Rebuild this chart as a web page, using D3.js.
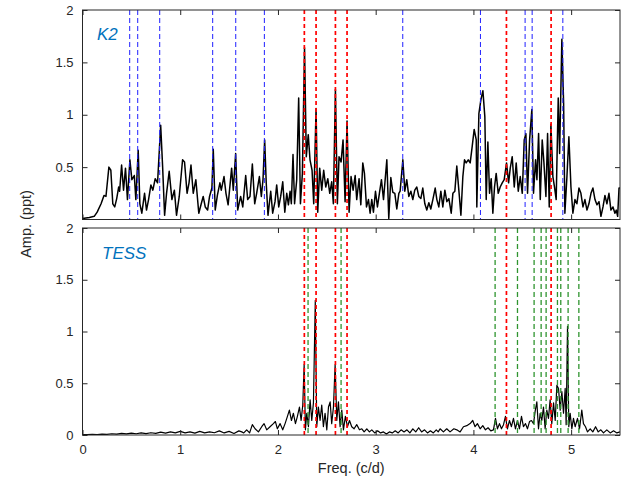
<!DOCTYPE html>
<html>
<head>
<meta charset="utf-8">
<script src="https://cdn.jsdelivr.net/npm/d3@7"></script>
<style>
  body { margin: 0; background: #fff; }
  svg { display: block; font-family: "Liberation Sans", Arial, sans-serif; }
  .tick text { fill: #262626; font-size: 13px; }
  .tick line { stroke: #262626; }
</style>
</head>
<body>
<div id="container"></div>
<script>
// K2 amplitude spectrum [freq (c/d), amp (ppt)]
const k2Spectrum = [[0,0.01],[0.07,0.02],[0.12,0.03],[0.15,0.07],[0.19,0.15],[0.22,0.23],[0.24,0.22],[0.27,0.50],[0.29,0.47],[0.31,0.15],[0.33,0.12],[0.35,0.20],[0.37,0.31],[0.38,0.27],[0.40,0.52],[0.42,0.28],[0.44,0.49],[0.46,0.19],[0.485,0.57],[0.505,0.38],[0.53,0.42],[0.546,0.19],[0.57,0.66],[0.587,0.15],[0.607,0.06],[0.635,0.25],[0.655,0.09],[0.676,0.19],[0.70,0.33],[0.72,0.28],[0.744,0.39],[0.768,0.35],[0.80,0.90],[0.82,0.50],[0.84,0.04],[0.86,0.25],[0.887,0.46],[0.915,0.19],[0.94,0.28],[0.962,0.04],[0.99,0.22],[1.024,0.57],[1.044,0.55],[1.07,0.25],[1.09,0.35],[1.11,0.52],[1.133,0.25],[1.16,0.38],[1.19,0.06],[1.215,0.15],[1.235,0.22],[1.256,0.12],[1.28,0.09],[1.30,0.22],[1.324,0.30],[1.338,0.67],[1.358,0.09],[1.38,0.23],[1.406,0.35],[1.42,0.28],[1.448,0.41],[1.468,0.25],[1.49,0.14],[1.526,0.49],[1.543,0.28],[1.567,0.63],[1.588,0.09],[1.618,0.22],[1.64,0.12],[1.67,0.42],[1.69,0.19],[1.714,0.22],[1.738,0.53],[1.762,0.15],[1.782,0.25],[1.81,0.41],[1.83,0.22],[1.847,0.38],[1.864,0.76],[1.88,0.35],[1.898,0.04],[1.926,0.27],[1.946,0.06],[1.97,0.17],[1.987,0.33],[2.008,0.12],[2.028,0.22],[2.049,0.36],[2.07,0.07],[2.09,0.25],[2.107,0.14],[2.124,0.27],[2.137,0.15],[2.154,0.62],[2.17,0.15],[2.192,0.38],[2.212,1.16],[2.23,0.15],[2.25,0.44],[2.272,1.64],[2.29,0.60],[2.31,0.81],[2.328,0.57],[2.349,0.47],[2.366,0.15],[2.39,1.06],[2.407,0.07],[2.427,0.49],[2.448,0.28],[2.468,0.47],[2.489,0.31],[2.51,0.39],[2.53,0.25],[2.55,0.36],[2.567,0.15],[2.588,1.24],[2.608,0.15],[2.625,0.60],[2.646,0.55],[2.666,0.76],[2.687,0.17],[2.707,0.94],[2.728,0.07],[2.748,0.41],[2.769,0.28],[2.79,0.42],[2.806,0.19],[2.83,0.39],[2.848,0.14],[2.868,0.54],[2.885,0.44],[2.906,0.12],[2.926,0.19],[2.943,0.06],[2.96,0.19],[2.977,0.07],[2.998,0.27],[3.018,0.12],[3.038,0.25],[3.059,0.38],[3.08,0.19],[3.114,0.57],[3.134,0.01],[3.155,0.40],[3.175,0.26],[3.196,0.25],[3.216,0.10],[3.237,0.25],[3.25,0.27],[3.278,0.57],[3.298,0.27],[3.318,0.38],[3.339,0.22],[3.36,0.27],[3.38,0.19],[3.40,0.28],[3.421,0.31],[3.441,0.22],[3.462,0.20],[3.482,0.30],[3.503,0.15],[3.523,0.09],[3.544,0.16],[3.564,0.10],[3.585,0.19],[3.609,0.30],[3.626,0.19],[3.646,0.12],[3.667,0.27],[3.687,0.12],[3.708,0.28],[3.728,0.17],[3.749,0.20],[3.773,0.06],[3.79,0.25],[3.81,0.27],[3.83,0.51],[3.851,0.28],[3.872,0.04],[3.892,0.41],[3.909,0.57],[3.926,0.54],[3.947,0.57],[3.967,0.54],[3.988,0.70],[4.008,0.86],[4.029,0.76],[4.035,0.12],[4.056,1.01],[4.076,1.14],[4.097,1.23],[4.117,0.98],[4.131,0.19],[4.148,0.74],[4.165,0.25],[4.182,0.39],[4.199,0.06],[4.216,0.31],[4.233,0.44],[4.254,0.25],[4.274,0.31],[4.295,0.35],[4.315,0.38],[4.339,0.54],[4.36,0.35],[4.377,0.49],[4.397,0.60],[4.418,0.31],[4.438,0.54],[4.459,0.27],[4.479,0.41],[4.5,0.25],[4.52,0.76],[4.537,0.82],[4.554,0.25],[4.575,0.76],[4.598,1.05],[4.615,0.25],[4.636,0.57],[4.65,0.38],[4.667,0.82],[4.684,0.19],[4.704,0.76],[4.721,0.55],[4.742,0.22],[4.759,0.82],[4.776,0.12],[4.793,0.91],[4.813,0.41],[4.83,0.31],[4.847,0.19],[4.868,1.16],[4.882,0.63],[4.905,1.72],[4.923,1.11],[4.936,0.06],[4.957,0.41],[4.977,0.79],[4.998,0.31],[5.018,0.06],[5.039,0.19],[5.059,0.15],[5.08,0.30],[5.1,0.25],[5.121,0.12],[5.141,0.19],[5.162,0.09],[5.182,0.15],[5.203,0.25],[5.223,0.30],[5.244,0.19],[5.264,0.14],[5.285,0.17],[5.305,0.03],[5.326,0.12],[5.346,0.23],[5.366,0.15],[5.387,0.25],[5.407,0.09],[5.428,0.12],[5.448,0.06],[5.462,0.09],[5.476,0.03],[5.49,0.30],[5.5,0.30]];

// TESS amplitude spectrum
const tessSpectrum = [[0,0.005],[0.05,0.003],[0.1,0.006],[0.15,0.004],[0.2,0.008],[0.25,0.006],[0.3,0.012],[0.35,0.008],[0.4,0.015],[0.45,0.01],[0.5,0.018],[0.55,0.012],[0.6,0.02],[0.65,0.014],[0.7,0.022],[0.75,0.015],[0.8,0.028],[0.85,0.018],[0.9,0.03],[0.95,0.02],[1.0,0.035],[1.05,0.02],[1.1,0.03],[1.15,0.018],[1.2,0.035],[1.25,0.02],[1.3,0.03],[1.35,0.022],[1.4,0.04],[1.45,0.02],[1.5,0.035],[1.55,0.015],[1.6,0.04],[1.63,0.03],[1.65,0.02],[1.68,0.05],[1.71,0.02],[1.738,0.10],[1.766,0.06],[1.80,0.03],[1.834,0.08],[1.858,0.11],[1.885,0.05],[1.919,0.08],[1.953,0.11],[1.974,0.13],[1.994,0.06],[2.022,0.11],[2.049,0.05],[2.073,0.11],[2.097,0.18],[2.117,0.24],[2.138,0.14],[2.158,0.21],[2.179,0.11],[2.199,0.18],[2.22,0.27],[2.237,0.14],[2.254,0.29],[2.268,0.68],[2.281,0.05],[2.295,0.21],[2.312,0.08],[2.329,0.34],[2.346,0.14],[2.363,0.31],[2.382,1.30],[2.397,0.08],[2.414,0.27],[2.431,0.14],[2.448,0.29],[2.465,0.08],[2.482,0.21],[2.5,0.05],[2.517,0.27],[2.534,0.32],[2.55,0.11],[2.568,0.27],[2.585,0.68],[2.602,0.14],[2.619,0.32],[2.636,0.08],[2.653,0.24],[2.67,0.05],[2.69,0.18],[2.711,0.08],[2.732,0.14],[2.755,0.08],[2.779,0.06],[2.806,0.10],[2.834,0.05],[2.858,0.06],[2.882,0.03],[2.909,0.06],[2.936,0.03],[2.96,0.05],[2.99,0.02],[3.02,0.04],[3.05,0.02],[3.08,0.03],[3.11,0.01],[3.14,0.03],[3.17,0.02],[3.20,0.04],[3.23,0.02],[3.26,0.05],[3.29,0.03],[3.32,0.05],[3.35,0.02],[3.38,0.06],[3.41,0.03],[3.44,0.07],[3.47,0.03],[3.50,0.05],[3.53,0.02],[3.56,0.04],[3.59,0.02],[3.62,0.05],[3.64,0.03],[3.659,0.06],[3.693,0.03],[3.727,0.06],[3.761,0.03],[3.80,0.06],[3.83,0.05],[3.864,0.03],[3.898,0.08],[3.932,0.09],[3.966,0.11],[3.993,0.14],[4.017,0.08],[4.041,0.11],[4.069,0.06],[4.096,0.09],[4.123,0.05],[4.15,0.07],[4.178,0.04],[4.205,0.05],[4.226,0.16],[4.246,0.06],[4.267,0.11],[4.287,0.06],[4.308,0.10],[4.328,0.18],[4.348,0.06],[4.369,0.14],[4.389,0.08],[4.41,0.16],[4.43,0.06],[4.451,0.14],[4.471,0.06],[4.492,0.18],[4.512,0.08],[4.533,0.11],[4.553,0.06],[4.574,0.13],[4.594,0.14],[4.615,0.11],[4.632,0.23],[4.649,0.32],[4.666,0.06],[4.683,0.21],[4.70,0.14],[4.717,0.27],[4.734,0.06],[4.751,0.24],[4.768,0.16],[4.785,0.34],[4.802,0.11],[4.82,0.31],[4.837,0.14],[4.854,0.48],[4.871,0.45],[4.888,0.24],[4.905,0.42],[4.922,0.21],[4.939,0.45],[4.949,0.10],[4.963,1.05],[4.976,0.08],[4.99,0.21],[5.007,0.06],[5.024,0.16],[5.041,0.08],[5.065,0.16],[5.086,0.06],[5.109,0.24],[5.126,0.11],[5.147,0.08],[5.167,0.03],[5.195,0.06],[5.222,0.03],[5.25,0.08],[5.277,0.03],[5.304,0.05],[5.331,0.02],[5.365,0.05],[5.40,0.02],[5.434,0.04],[5.468,0.02],[5.5,0.03]];

// marked frequencies (c/d)
const k2Blue = [0.483, 0.565, 0.79, 1.332, 1.568, 1.861, 3.277, 4.072, 4.529, 4.601, 4.915];
const sharedRed = [2.27, 2.39, 2.588, 2.707, 4.338, 4.795];
const tessGreen = [2.308, 2.646, 4.222, 4.451, 4.621, 4.693, 4.744, 4.86, 4.894, 4.969, 5.079];

const xTicks = [0, 1, 2, 3, 4, 5];
const topYTicks = [0.5, 1, 1.5, 2];
const botYTicks = [0, 0.5, 1, 1.5, 2];

const w = 633, h = 479;
const left = 82.5, right = 620;

const svg = d3.select("#container").append("svg")
  .attr("width", w).attr("height", h);

const xScale = d3.scaleLinear().domain([0, 5.5]).range([left, right]);

const panels = [
  {name: "K2", data: k2Spectrum, top: 10, bottom: 219.5, yTicks: topYTicks,
   lines: [{f: k2Blue, color: "#2020ff", width: 1, dash: "5,3"},
           {f: sharedRed, color: "#ff0000", width: 1.7, dash: "4,3"}],
   lw: 1.5, labelY: 40, labelX: 97, xLabels: false},
  {name: "TESS", data: tessSpectrum, top: 228, bottom: 435, yTicks: botYTicks,
   lines: [{f: sharedRed, color: "#ff0000", width: 1.7, dash: "4,3"},
           {f: tessGreen, color: "#2f942f", width: 1.3, dash: "5,3"}],
   lw: 1.2, labelY: 259, labelX: 102, xLabels: true}
];

panels.forEach(function(p, i) {
  const yScale = d3.scaleLinear().domain([0, 2]).range([p.bottom, p.top]);
  const g = svg.append("g");

  g.append("clipPath").attr("id", "clip" + i)
    .append("rect")
    .attr("x", left).attr("y", p.top)
    .attr("width", right - left).attr("height", p.bottom - p.top);

  const line = d3.line().x(d => xScale(d[0])).y(d => yScale(d[1]));

  g.append("path")
    .datum(p.data)
    .attr("clip-path", "url(#clip" + i + ")")
    .attr("d", line)
    .attr("fill", "none")
    .attr("stroke", "#000")
    .attr("stroke-width", p.lw)
    .attr("stroke-linejoin", "round");

  p.lines.forEach(function(set) {
    g.selectAll(null)
      .data(set.f)
      .enter()
      .append("line")
      .attr("x1", d => xScale(d)).attr("x2", d => xScale(d))
      .attr("y1", p.top).attr("y2", p.bottom)
      .attr("stroke", set.color)
      .attr("stroke-width", set.width)
      .attr("stroke-dasharray", set.dash);
  });

  // axes, ticks pointing inward
  g.append("g")
    .attr("transform", "translate(" + left + ",0)")
    .call(d3.axisLeft(yScale).tickValues(p.yTicks).tickSize(-5).tickPadding(9)
      .tickFormat(d3.format("")))
    .call(a => a.select(".domain").remove());
  g.append("g")
    .attr("transform", "translate(" + right + ",0)")
    .call(d3.axisRight(yScale).tickValues(p.yTicks).tickSize(-5).tickFormat(""))
    .call(a => a.select(".domain").remove());
  g.append("g")
    .attr("transform", "translate(0," + p.top + ")")
    .call(d3.axisTop(xScale).tickValues(xTicks).tickSize(-5).tickFormat(""))
    .call(a => a.select(".domain").remove());
  g.append("g")
    .attr("transform", "translate(0," + p.bottom + ")")
    .call(d3.axisBottom(xScale).tickValues(xTicks).tickSize(-5).tickPadding(10)
      .tickFormat(p.xLabels ? d3.format("") : ""))
    .call(a => a.select(".domain").remove());

  g.append("rect")
    .attr("x", left).attr("y", p.top)
    .attr("width", right - left).attr("height", p.bottom - p.top)
    .attr("fill", "none")
    .attr("stroke", "#262626")
    .attr("stroke-width", 1);

  g.append("text")
    .attr("x", p.labelX).attr("y", p.labelY)
    .attr("fill", "#0072bd")
    .attr("font-size", 17)
    .attr("font-style", "italic")
    .text(p.name);
});

svg.append("text")
  .attr("x", (left + right) / 2).attr("y", 473)
  .attr("text-anchor", "middle")
  .attr("fill", "#262626")
  .attr("font-size", 14.5)
  .text("Freq. (c/d)");

svg.append("text")
  .attr("transform", "translate(31,224) rotate(-90)")
  .attr("text-anchor", "middle")
  .attr("fill", "#262626")
  .attr("font-size", 14.5)
  .text("Amp. (ppt)");
</script>
</body>
</html>
